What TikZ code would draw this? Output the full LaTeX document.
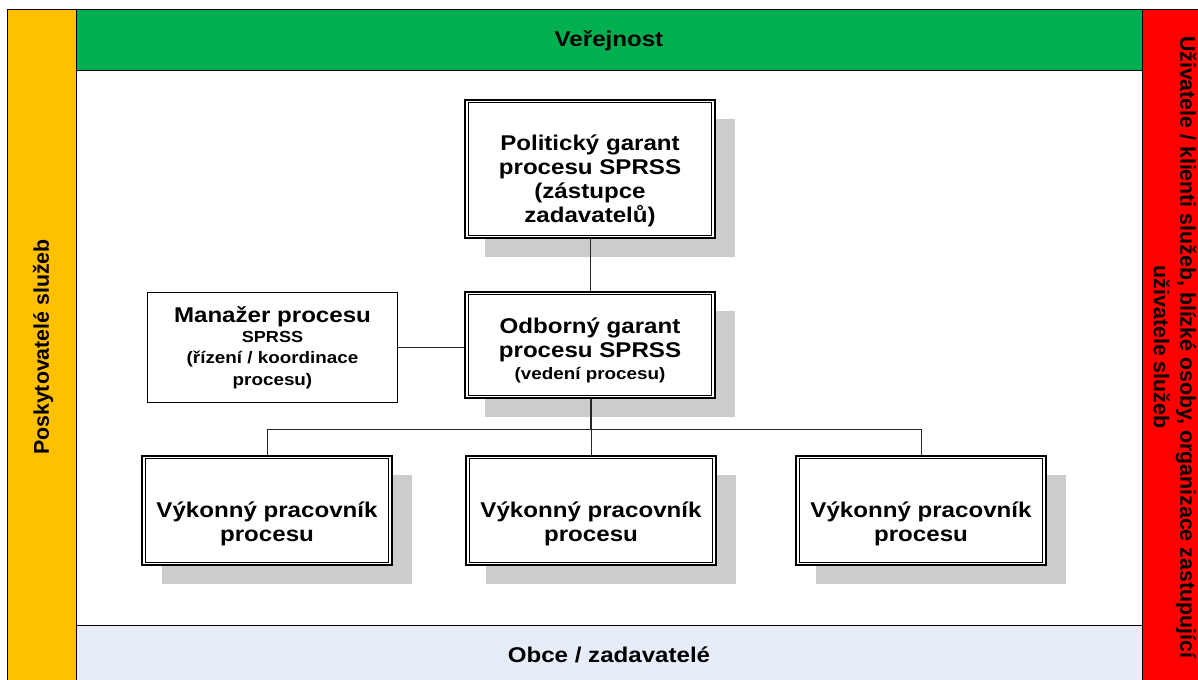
\documentclass[tikz,border=0pt]{standalone}
\usepackage{fontspec}
\setmainfont{Liberation Sans}[FakeStretch=1.13]
\newfontfamily\rotfont{Liberation Sans}
\usetikzlibrary{shadows}
\definecolor{cOrange}{HTML}{FFC000}
\definecolor{cGreen}{HTML}{00B050}
\definecolor{cRed}{HTML}{FF0000}
\definecolor{cBlue}{HTML}{E6EDF8}
\definecolor{cShadow}{HTML}{CCCCCC}
\begin{document}
\begin{tikzpicture}[x=0.75pt,y=-0.75pt,
  bar/.style={draw=black, line width=0.75pt},
  bigtxt/.style={font=\bfseries\fontsize{16}{18}\selectfont},
  boxtxt/.style={bigtxt, align=center, inner sep=0pt},
  frametwo/.style={draw=black, line width=1.3pt, fill=white, inner sep=0pt,
    minimum width=187pt,
    drop shadow={shadow xshift=15pt, shadow yshift=-14.25pt, fill=cShadow, opacity=1}},
  frameone/.style={draw=black, line width=0.9pt, fill=white, align=center, inner sep=0pt, bigtxt},
  inner/.style={draw=black, line width=0.6pt},
  conn/.style={draw=black!85, line width=0.75pt}]
\useasboundingbox (0,0) rectangle (1198,679);
\clip (0,0) rectangle (1198,679);
% background bands
\fill[white] (76,70) rectangle (1142,625);
\draw[bar, fill=cOrange] (7,9) rectangle (76,690);
\draw[bar, fill=cGreen] (76,9) rectangle (1142,70);
\draw[bar, fill=cRed] (1142,9) rectangle (1215,690);
\draw[bar, fill=cBlue] (76,625) rectangle (1142,690);
\node[bigtxt, anchor=base] (ver) at (609,46) {Veřejnost};
\node[bigtxt, anchor=base] (obce) at (609,662) {Obce / zadavatelé};
\node[font=\rotfont\bfseries\fontsize{16}{18}\selectfont, rotate=90] (posk) at (43,347) {Poskytovatelé služeb};
\node[font=\rotfont\bfseries\fontsize{16}{20}\selectfont, rotate=-90, align=center] (uziv) at (1175,347)
  {Uživatele / klienti služeb, blízké osoby, organizace zastupující\\uživatele služeb};
% boxes
\node[frametwo, minimum height=103.5pt,
  label={[boxtxt, yshift=-9pt]center:{Politický garant\\procesu SPRSS\\(zástupce\\zadavatelů)}}]
  (pol) at (590,169) {};
\node[frametwo, minimum height=79.5pt,
  label={[boxtxt, yshift=-4pt]center:{Odborný garant\\procesu SPRSS\\[-2pt]{\fontsize{12.5}{14}\selectfont (vedení procesu)}}}]
  (odb) at (590,345) {};
\node[frameone, minimum width=187pt, minimum height=82pt] (man) at (272.5,347.5)
  {Manažer procesu\\[-3pt]{\fontsize{12}{13}\selectfont SPRSS}\\[-2pt]{\fontsize{12.5}{14}\selectfont (řízení / koordinace}\\[-2pt]{\fontsize{12.5}{14}\selectfont procesu)}};
\node[frametwo, minimum height=82pt,
  label={[boxtxt, yshift=-10pt]center:{Výkonný pracovník\\procesu}}] (v1) at (267,510.5) {};
\node[frametwo, minimum height=82pt,
  label={[boxtxt, yshift=-10pt]center:{Výkonný pracovník\\procesu}}] (v2) at (591,510.5) {};
\node[frametwo, minimum height=82pt,
  label={[boxtxt, yshift=-10pt]center:{Výkonný pracovník\\procesu}}] (v3) at (921,510.5) {};
\foreach \n in {pol,odb,v1,v2,v3}
  \draw[inner] ([xshift=2.8pt,yshift=-2.8pt]\n.north west) rectangle ([xshift=-2.8pt,yshift=2.8pt]\n.south east);
% connectors
\coordinate (j) at (591,429);
\draw[conn] (pol) -- (odb);
\draw[conn] (man.east) -- (man.east -| odb.west);
\draw[conn, line width=1.3pt] (odb.south -| j) -- (j);
\draw[conn] (j) -- (v2.north);
\draw[conn] (v1.north) -- (v1.north |- j) -- (v3.north |- j) -- (v3.north);
\end{tikzpicture}
\end{document}
